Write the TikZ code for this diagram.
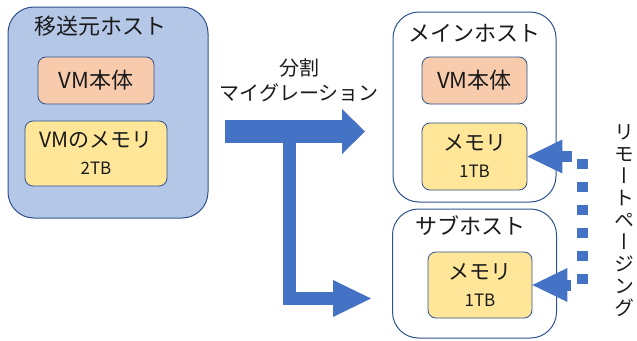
\documentclass[tikz,border=0pt]{standalone}
\usepackage{fontspec}
\setmainfont{Noto Sans CJK JP}
\newfontfamily\vertfont{Noto Sans CJK JP}[RawFeature=+vert]
\usetikzlibrary{positioning, arrows.meta}
\definecolor{hostfill}{HTML}{B4C7E7}
\definecolor{edgeblue}{HTML}{2F528F}
\definecolor{arrowblue}{HTML}{4472C4}
\definecolor{vmfill}{HTML}{F8CBAD}
\definecolor{memfill}{HTML}{FFE699}
\definecolor{ink}{HTML}{1A1A1A}
\newcommand{\titlesize}{\fontsize{22}{26}\selectfont}
\newcommand{\memsize}{\fontsize{21}{27}\selectfont}
\newcommand{\tbsize}{\fontsize{17}{27}\selectfont}

\begin{document}
\begin{tikzpicture}[x=1pt, y=-1pt, text=ink,
    host/.style={draw=edgeblue, line width=1pt, rounded corners=26pt, inner sep=0pt},
    part/.style={draw=edgeblue, line width=0.8pt, rounded corners=8pt, inner sep=0pt, align=center},
    memory/.style={part, fill=memfill, font=\memsize},
    blockarrow/.style={draw=arrowblue, line cap=butt}]
    \useasboundingbox (0,0) rectangle (637,340);

    % source host
    \node (src) [host, fill=hostfill, minimum width=200pt, minimum height=211pt] at (108,112.5) {};
    \node (srcTitle) at (100,26) {\titlesize 移送元ホスト};
    \node (srcVM) [part, fill=vmfill, minimum width=116pt, minimum height=47pt] at (96,80.5) {\titlesize VM本体};
    \node (srcMem) [memory, minimum width=142pt, minimum height=65pt] at (96,153.5) {VMのメモリ\\\tbsize 2TB};

    % main host and sub host
    \node (main) [host, fill=white, minimum width=163pt, minimum height=190pt] at (474.5,107) {};
    \node (mainTitle) at (474,33) {\titlesize メインホスト};
    \node (mainVM) [part, fill=vmfill, minimum width=105pt, minimum height=47pt] at (474.5,80.5) {\titlesize VM本体};
    \node (mainMem) [memory, minimum width=105pt, minimum height=67pt] at (474.5,156.5) {メモリ\\\tbsize 1TB};

    \node (sub) [host, fill=white, minimum width=164pt, minimum height=129pt, below=6pt of main] {};
    \node (subTitle) at (470,226) {\titlesize サブホスト};
    \node (subMem) [memory, minimum width=104pt, minimum height=66pt] at (480,285) {メモリ\\\tbsize 1TB};

    % split migration
    \coordinate (splitStart) at (225,131.5);
    \coordinate (splitMain) at (365,131.5);
    \coordinate (splitDown) at (289.5,143);
    \coordinate (splitSub) at (371,298.5);
    \draw [blockarrow, line width=23pt, -{Triangle[width=45pt, length=23pt, line width=0pt]}] (splitStart) -- (splitMain);
    \draw [blockarrow, line width=13pt, -{Triangle[width=37pt, length=38pt, line width=0pt]}] (splitDown) |- (splitSub);
    \node (splitLabel) [align=center, font=\fontsize{20}{25}\selectfont] at (299,80.5) {分割\\マイグレーション};

    % remote paging
    \draw [draw=arrowblue, line width=11pt, dash pattern=on 10pt off 13pt,
        {Triangle[width=34pt, length=35pt, line width=0pt]}-{Triangle[width=34pt, length=35pt, line width=0pt]}]
        (mainMem.east) -- ++(55.5,0) |- (subMem.east);
    \node (paging) [align=center, font=\vertfont\fontsize{20}{22}\selectfont] at (624,221) {リ\\モ\\ー\\ト\\ペ\\ー\\ジ\\ン\\グ};
\end{tikzpicture}
\end{document}
